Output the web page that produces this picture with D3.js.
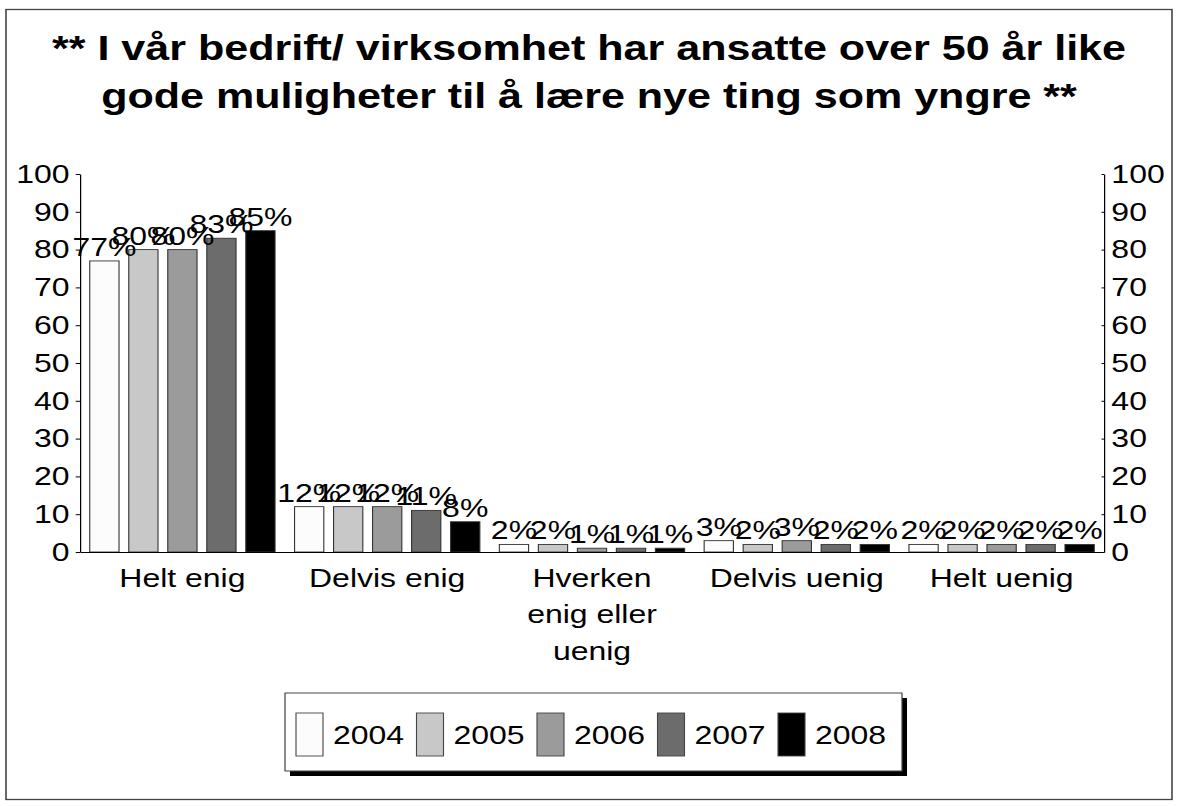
<!DOCTYPE html>
<html>
<head>
<meta charset="utf-8">
<script src="https://d3js.org/d3.v7.min.js"></script>
<style>
  body { margin: 0; background: #fff; }
  svg text { font-family: "Liberation Sans", Arial, sans-serif; fill: #000; }
</style>
</head>
<body>
<div id="chart"></div>
<script>
// data
var categories = ["Helt enig", "Delvis enig", "Hverken enig eller uenig", "Delvis uenig", "Helt uenig"];
var catLines = [["Helt enig"], ["Delvis enig"], ["Hverken", "enig eller", "uenig"], ["Delvis uenig"], ["Helt uenig"]];
var years = ["2004", "2005", "2006", "2007", "2008"];
var v2004 = [77, 12, 2, 3, 2];
var v2005 = [80, 12, 2, 2, 2];
var v2006 = [80, 12, 1, 3, 2];
var v2007 = [83, 11, 1, 2, 2];
var v2008 = [85, 8, 1, 2, 2];
var yTicks = [0, 10, 20, 30, 40, 50, 60, 70, 80, 90, 100];
var titleLines = ["** I vår bedrift/ virksomhet har ansatte over 50 år like",
                  "gode muligheter til å lære nye ting som yngre **"];

var series = [v2004, v2005, v2006, v2007, v2008];
var colors = ["#fcfcfc", "#c8c8c8", "#9b9b9b", "#6c6c6c", "#000000"];
var fs = "26px";

// the original picture is stretched sideways, so draw in a narrower box and stretch it
var SX = 1.23;
var pxW = 1178, pxH = 806;
var W = pxW / SX, H = pxH;

var svg = d3.select("#chart").append("svg")
    .attr("width", pxW)
    .attr("height", pxH)
    .attr("viewBox", `0 0 ${W} ${H}`)
    .attr("preserveAspectRatio", "none");

// frame
svg.append("rect")
    .attr("x", 6 / SX).attr("y", 9.5)
    .attr("width", (1172 - 6) / SX).attr("height", 790)
    .attr("fill", "none")
    .attr("stroke", "#444")
    .attr("stroke-width", 1.3);

// title
svg.append("text")
    .attr("x", W / 2)
    .attr("text-anchor", "middle")
    .style("font-weight", "bold")
    .style("font-size", "35px")
    .selectAll("tspan")
    .data(titleLines)
    .enter().append("tspan")
    .attr("x", W / 2)
    .attr("y", (d, i) => 60 + i * 48)
    .text(d => d);

var plotL = 80 / SX, plotR = 1104 / SX, plotT = 174, plotB = 552;

var x0 = d3.scaleBand().domain(categories).range([plotL, plotR]).padding(0);
var x1 = d3.scaleBand().domain(years).range([0, x0.bandwidth()])
    .paddingInner(0.25).paddingOuter(0.25);
var y = d3.scaleLinear().domain([0, 100]).range([plotB, plotT]);

// axes
var yl = svg.append("g")
    .attr("transform", `translate(${plotL},0)`)
    .call(d3.axisLeft(y).tickValues(yTicks).tickSizeInner(3.5).tickSizeOuter(0).tickPadding(5));
var yr = svg.append("g")
    .attr("transform", `translate(${plotR},0)`)
    .call(d3.axisRight(y).tickValues(yTicks).tickSizeInner(-2).tickSizeOuter(0).tickPadding(6));
[yl, yr].forEach(g => {
    g.selectAll("text").style("font-size", fs).style("font-family", "Liberation Sans, Arial, sans-serif");
    g.selectAll("line, path").attr("stroke", "#000").attr("stroke-width", 1);
});

// bars
var groups = svg.append("g").selectAll("g")
    .data(categories)
    .enter().append("g")
    .attr("transform", d => `translate(${x0(d)},0)`);

groups.selectAll("rect")
    .data((c, ci) => years.map((yr, si) => ({ year: yr, si: si, value: series[si][ci] })))
    .enter().append("rect")
    .attr("x", d => x1(d.year))
    .attr("y", d => y(d.value))
    .attr("width", x1.bandwidth())
    .attr("height", d => y(0) - y(d.value))
    .attr("fill", d => colors[d.si])
    .attr("stroke", "#333")
    .attr("stroke-width", 0.9);

groups.selectAll("text.val")
    .data((c, ci) => years.map((yr, si) => ({ year: yr, si: si, value: series[si][ci] })))
    .enter().append("text")
    .attr("class", "val")
    .attr("x", d => x1(d.year) + x1.bandwidth() / 2)
    .attr("y", d => y(d.value) - 5)
    .attr("text-anchor", "middle")
    .style("font-size", fs)
    .text(d => d.value + "%");

// category axis
var xa = svg.append("g")
    .attr("transform", `translate(0,${plotB})`)
    .call(d3.axisBottom(x0).tickSize(0).tickPadding(0));
xa.select("path").attr("stroke", "#000").attr("stroke-width", 1);
xa.selectAll(".tick text").each(function (d, i) {
    var t = d3.select(this).text(null).attr("dy", null).attr("y", 0)
        .style("font-size", fs).style("font-family", "Liberation Sans, Arial, sans-serif");
    catLines[i].forEach((line, k) => {
        t.append("tspan").attr("x", 0).attr("y", 35 + k * 36.5).text(line);
    });
});

// legend
var lx = 285 / SX, ly = 693, lw = (902 - 285) / SX, lh = 78;
var legend = svg.append("g");
legend.append("rect")
    .attr("x", lx + 5 / SX).attr("y", ly + 5)
    .attr("width", lw).attr("height", lh)
    .attr("fill", "#000");
legend.append("rect")
    .attr("x", lx).attr("y", ly)
    .attr("width", lw).attr("height", lh)
    .attr("fill", "#fff")
    .attr("stroke", "#444")
    .attr("stroke-width", 1);

var step = 120.5 / SX;
var items = legend.selectAll("g.item")
    .data(years)
    .enter().append("g")
    .attr("transform", (d, i) => `translate(${296 / SX + i * step},${ly + 20})`);
items.append("rect")
    .attr("width", 27 / SX).attr("height", 43)
    .attr("fill", (d, i) => colors[i])
    .attr("stroke", "#444")
    .attr("stroke-width", 0.9);
items.append("text")
    .attr("x", 37 / SX)
    .attr("y", 31)
    .style("font-size", fs)
    .text(d => d);
</script>
</body>
</html>
